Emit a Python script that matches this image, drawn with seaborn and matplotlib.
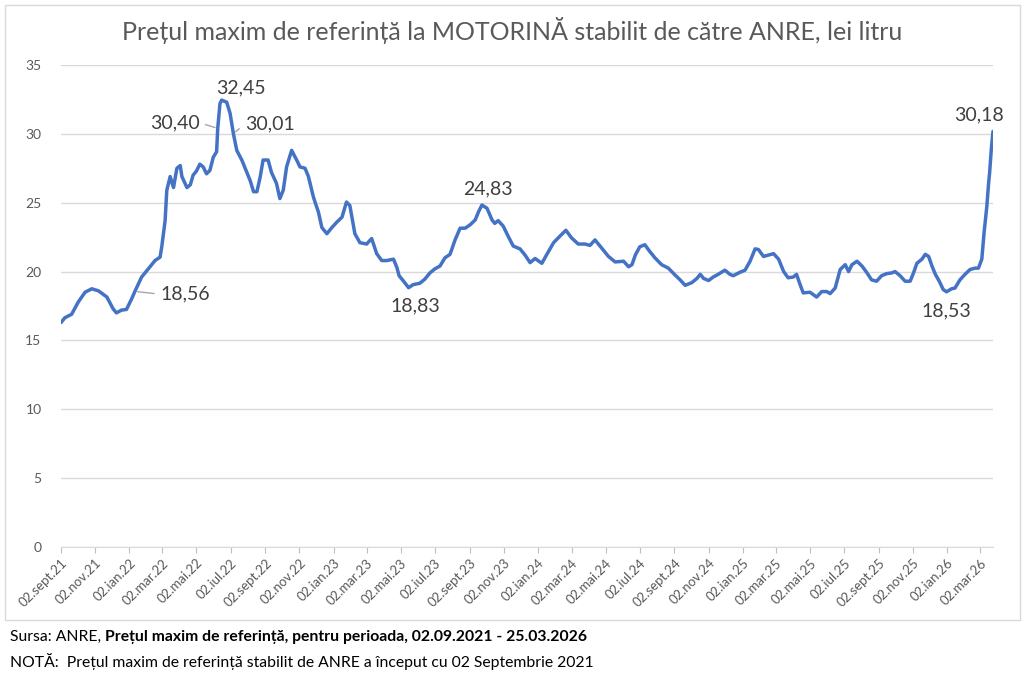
import pandas as pd
import matplotlib
import matplotlib.pyplot as plt
from matplotlib.patches import Rectangle
import seaborn as sns

# Data (approximate)
dates = [
    "2021-09-02", "2021-09-09", "2021-09-21", "2021-10-03", "2021-10-15", "2021-10-27",
    "2021-11-08", "2021-11-23", "2021-12-04", "2021-12-10", "2021-12-19", "2021-12-28",
    "2022-01-06", "2022-01-12", "2022-01-24", "2022-02-05", "2022-02-17", "2022-02-26",
    "2022-03-01", "2022-03-07", "2022-03-10", "2022-03-16", "2022-03-22", "2022-03-28",
    "2022-04-03", "2022-04-06", "2022-04-15", "2022-04-21", "2022-04-26", "2022-05-02",
    "2022-05-08", "2022-05-14", "2022-05-20", "2022-05-26", "2022-06-01", "2022-06-07",
    "2022-06-09", "2022-06-13", "2022-06-16", "2022-06-25", "2022-07-01", "2022-07-07",
    "2022-07-13", "2022-07-22", "2022-07-31", "2022-08-06", "2022-08-12", "2022-08-18",
    "2022-08-24", "2022-08-29", "2022-09-07", "2022-09-13", "2022-09-22", "2022-09-28",
    "2022-10-04", "2022-10-10", "2022-10-19", "2022-10-28", "2022-11-03", "2022-11-12",
    "2022-11-18", "2022-11-27", "2022-12-06", "2022-12-12", "2022-12-21", "2022-12-30",
    "2023-01-08", "2023-01-17", "2023-01-25", "2023-01-31", "2023-02-09", "2023-02-18",
    "2023-03-02", "2023-03-11", "2023-03-20", "2023-03-29", "2023-04-07", "2023-04-19",
    "2023-04-25", "2023-04-29", "2023-05-07", "2023-05-16", "2023-05-24", "2023-06-05",
    "2023-06-14", "2023-06-23", "2023-07-02", "2023-07-11", "2023-07-20", "2023-07-29",
    "2023-08-07", "2023-08-16", "2023-08-25", "2023-09-03", "2023-09-12", "2023-09-18",
    "2023-09-24", "2023-10-03", "2023-10-12", "2023-10-17", "2023-10-23", "2023-11-01",
    "2023-11-10", "2023-11-19", "2023-12-01", "2023-12-10", "2023-12-19", "2023-12-28",
    "2024-01-09", "2024-01-18", "2024-01-30", "2024-02-11", "2024-02-21", "2024-03-02",
    "2024-03-14", "2024-03-26", "2024-04-04", "2024-04-13", "2024-04-22", "2024-05-07",
    "2024-05-19", "2024-06-03", "2024-06-12", "2024-06-18", "2024-06-24", "2024-07-02",
    "2024-07-11", "2024-07-20", "2024-07-29", "2024-08-10", "2024-08-22", "2024-09-03",
    "2024-09-12", "2024-09-21", "2024-10-03", "2024-10-12", "2024-10-18", "2024-10-24",
    "2024-11-02", "2024-11-10", "2024-11-19", "2024-12-01", "2024-12-10", "2024-12-16",
    "2024-12-28", "2025-01-06", "2025-01-15", "2025-01-24", "2025-01-30", "2025-02-08",
    "2025-02-17", "2025-02-26", "2025-03-07", "2025-03-16", "2025-03-24", "2025-04-02",
    "2025-04-08", "2025-04-14", "2025-04-20", "2025-05-02", "2025-05-14", "2025-05-23",
    "2025-06-01", "2025-06-07", "2025-06-16", "2025-06-25", "2025-07-04", "2025-07-10",
    "2025-07-16", "2025-07-25", "2025-08-03", "2025-08-12", "2025-08-20", "2025-08-29",
    "2025-09-07", "2025-09-16", "2025-09-25", "2025-10-01", "2025-10-10", "2025-10-19",
    "2025-10-28", "2025-11-03", "2025-11-09", "2025-11-18", "2025-11-24", "2025-11-30",
    "2025-12-06", "2025-12-12", "2025-12-19", "2025-12-26", "2026-01-01", "2026-01-10",
    "2026-01-16", "2026-01-25", "2026-02-03", "2026-02-12", "2026-02-21", "2026-02-27",
    "2026-03-05", "2026-03-09", "2026-03-14", "2026-03-17", "2026-03-19", "2026-03-22",
    "2026-03-25",
]
prices = [
    16.30, 16.65, 16.90, 17.80, 18.50, 18.75,
    18.60, 18.15, 17.30, 17.00, 17.20, 17.25,
    18.00, 18.56, 19.60, 20.20, 20.80, 21.05,
    21.80, 23.70, 25.90, 26.90, 26.10, 27.50,
    27.70, 26.90, 26.10, 26.30, 27.00, 27.30,
    27.80, 27.60, 27.10, 27.35, 28.30, 28.70,
    30.40, 32.20, 32.45, 32.30, 31.50, 30.01,
    28.80, 28.10, 27.20, 26.60, 25.80, 25.80,
    26.90, 28.10, 28.10, 27.20, 26.40, 25.30,
    25.90, 27.60, 28.80, 28.10, 27.60, 27.50,
    26.90, 25.40, 24.30, 23.20, 22.75, 23.20,
    23.60, 23.95, 25.05, 24.80, 22.75, 22.10,
    22.00, 22.40, 21.30, 20.80, 20.80, 20.90,
    20.30, 19.70, 19.30, 18.83, 19.05, 19.15,
    19.45, 19.90, 20.20, 20.40, 21.00, 21.25,
    22.30, 23.15, 23.15, 23.40, 23.75, 24.35,
    24.83, 24.60, 23.75, 23.50, 23.70, 23.30,
    22.55, 21.85, 21.65, 21.20, 20.65, 20.95,
    20.60, 21.25, 22.10, 22.60, 23.00, 22.45,
    22.00, 22.00, 21.90, 22.30, 21.85, 21.10,
    20.70, 20.75, 20.35, 20.50, 21.20, 21.80,
    21.95, 21.45, 21.00, 20.50, 20.25, 19.75,
    19.40, 19.00, 19.20, 19.50, 19.80, 19.50,
    19.35, 19.60, 19.80, 20.10, 19.80, 19.70,
    19.95, 20.10, 20.75, 21.65, 21.60, 21.10,
    21.20, 21.30, 20.90, 20.00, 19.55, 19.60,
    19.80, 19.10, 18.45, 18.50, 18.15, 18.55,
    18.55, 18.40, 18.80, 20.15, 20.50, 20.00,
    20.50, 20.75, 20.40, 19.90, 19.40, 19.30,
    19.70, 19.85, 19.90, 20.00, 19.70, 19.30,
    19.30, 19.90, 20.60, 20.90, 21.25, 21.10,
    20.40, 19.80, 19.30, 18.70, 18.53, 18.75,
    18.80, 19.40, 19.80, 20.15, 20.25, 20.25,
    20.90, 22.80, 24.75, 26.35, 27.20, 28.90,
    30.18,
]

# labelled points: (date, value, text offset in points, leader anchor on text or None)
labels = [
    ("2022-01-12", 18.56, (36, -2), (0, 0.5)),
    ("2022-06-09", 30.40, (-31, 4), (1, 0.5)),
    ("2022-06-16", 32.45, (14, 9), None),
    ("2022-07-07", 30.01, (26, 7), (0, 0.5)),
    ("2023-05-16", 18.83, (5, -13), None),
    ("2023-09-24", 24.83, (4, 12), None),
    ("2026-01-01", 18.53, (0, -14), None),
    ("2026-03-25", 30.18, (-10, 12), None),
]

month_names = {1: "ian", 3: "mar", 5: "mai", 7: "iul", 9: "sept", 11: "nov"}
tick_dates = pd.date_range("2021-09-02", "2026-03-02", freq=pd.DateOffset(months=2))
tick_labels = [f"02.{month_names[d.month]}.{d.strftime('%y')}" for d in tick_dates]

df = pd.DataFrame({"date": pd.to_datetime(dates), "price": prices})

sns.set_style("white")
plt.rcParams["font.family"] = ["Lato", "DejaVu Sans"]

GREY = "#595959"
fig = plt.figure(figsize=(10.24, 6.8), dpi=100)
ax = fig.add_axes([61 / 1024, 1 - 547 / 680, (993 - 61) / 1024, (547 - 65) / 680])

sns.lineplot(data=df, x="date", y="price", ax=ax, color="#4472C4", linewidth=2.5)

ax.set_ylim(0, 35)
ax.set_yticks(range(0, 36, 5))
ax.set_xlim(pd.Timestamp("2021-09-02"), pd.Timestamp("2026-03-25"))
ax.set_xticks(tick_dates)
ax.set_xticklabels(tick_labels, rotation=45, ha="right", rotation_mode="anchor")
ax.set_xlabel("")
ax.set_ylabel("")
ax.grid(axis="y", color="#D9D9D9", linewidth=1)
ax.set_axisbelow(True)
for s in ["top", "right", "left"]:
    ax.spines[s].set_visible(False)
ax.spines["bottom"].set_color("#D9D9D9")
ax.tick_params(axis="x", colors="#BFBFBF", length=4, direction="out", bottom=True,
               labelcolor=GREY, labelsize=9.5, pad=3)
ax.tick_params(axis="y", length=0, labelcolor=GREY, labelsize=10, pad=14)

for d, v, off, rel in labels:
    ax.annotate(
        f"{v:.2f}".replace(".", ","),
        xy=(pd.Timestamp(d), v),
        xytext=off,
        textcoords="offset points",
        ha="center",
        va="center",
        fontsize=14,
        color="#404040",
        arrowprops=None if rel is None else dict(
            arrowstyle="-", color="#A6A6A6", lw=1, shrinkA=2, shrinkB=2, relpos=rel),
    )

fig.text(0.5, 1 - 30 / 680, "Prețul maxim de referință la MOTORINĂ stabilit de către ANRE, lei litru",
         ha="center", va="center", fontsize=18, color=GREY)

# chart border
fig.patches.append(Rectangle((5 / 1024, 1 - 620 / 680), 1015 / 1024, 615 / 680,
                             transform=fig.transFigure, fill=False, edgecolor="#D9D9D9", lw=1))

# footnotes
t1 = fig.text(10 / 1024, 1 - 637 / 680, "Sursa: ANRE, ", ha="left", va="center", fontsize=11.3, color="black")
fig.canvas.draw()
bb = t1.get_window_extent()
fig.text(bb.x1 / fig.bbox.width, 1 - 637 / 680,
         "Prețul maxim de referință, pentru perioada, 02.09.2021 - 25.03.2026",
         ha="left", va="center", fontsize=11.3, fontweight="bold", color="black")
fig.text(10 / 1024, 1 - 662 / 680,
         "NOTĂ:  Prețul maxim de referință stabilit de ANRE a început cu 02 Septembrie 2021",
         ha="left", va="center", fontsize=11.3, color="black")

fig.savefig("out.png", dpi=100)
